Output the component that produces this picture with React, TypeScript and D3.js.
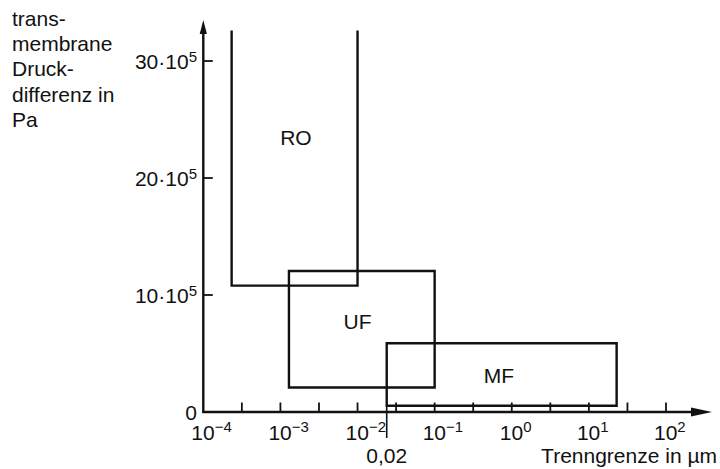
import React from "react";
import * as d3 from "d3";

// ---- data ----
const regionNames = ["RO", "UF", "MF"];
const regionXMin = [2.33e-4, 1.29e-3, 0.0239];
const regionXMax = [0.01, 0.1, 22.9];
const regionYMin = [10.8e5, 2.1e5, 0.54e5];
const regionYMax = [32.6e5, 12.05e5, 5.87e5];
const regionOpenTop = [true, false, false];
const regionLabelX = [1.59e-3, 0.01, 0.683];
const regionLabelY = [23.5e5, 7.73e5, 3.08e5];

const xTickValues = [
  10 ** -3.5, 1e-3, 10 ** -2.5, 1e-2, 10 ** -1.5, 1e-1,
  10 ** -0.5, 1, 10 ** 0.5, 10, 10 ** 1.5, 100,
];
const xLabelValues = [1e-4, 1e-3, 1e-2, 1e-1, 1, 10, 100];
const xLabelExps = ["−4", "−3", "−2", "−1", "0", "1", "2"];
const yTickValues = [10e5, 20e5, 30e5];
const yLabelMant = ["10", "20", "30"];

const markerValue = 0.0239;
const markerLabel = "0,02";
const yTitleLines = ["trans-", "membrane", "Druck-", "differenz in", "Pa"];
const xTitle = "Trenngrenze in µm";

const FONT = "'Liberation Sans', Arial, Helvetica, sans-serif";
const FS = 21;
const FS_SUP = 15;

export default function App() {
  const W = 720;
  const H = 469;
  const x = d3.scaleLog().domain([1e-4, 1e2]).range([203.3, 666]);
  const y = d3.scaleLinear().domain([0, 30e5]).range([412, 61]);
  const x0 = x(1e-4);
  const y0 = y(0);
  const sw = 2.4;

  const boxPath = (i: number) => {
    const l = x(regionXMin[i]);
    const r = x(regionXMax[i]);
    const t = y(regionYMax[i]);
    const b = y(regionYMin[i]);
    const p = d3.path();
    p.moveTo(l, t);
    p.lineTo(l, b);
    p.lineTo(r, b);
    p.lineTo(r, t);
    if (!regionOpenTop[i]) p.closePath();
    return p.toString();
  };

  return (
    <svg
      width={W}
      height={H}
      style={{ position: "absolute", left: 0, top: 0, display: "block", background: "#fff" }}
      fontFamily={FONT}
    >
      <rect width={W} height={H} fill="#fff" />
      {/* y-axis title */}
      {yTitleLines.map((t, i) => (
        <text key={t} x={12} y={26 + i * 25.2} fontSize={FS} fill="#111">
          {t}
        </text>
      ))}

      {/* boxes */}
      {regionNames.map((n, i) => (
        <path key={n} d={boxPath(i)} fill="none" stroke="#111" strokeWidth={sw} strokeLinejoin="miter" />
      ))}
      {regionNames.map((n, i) => (
        <text
          key={n + "l"}
          x={x(regionLabelX[i])}
          y={y(regionLabelY[i]) + 7.5}
          fontSize={FS}
          textAnchor="middle"
          fill="#111"
        >
          {n}
        </text>
      ))}

      {/* marker line below MF */}
      <line
        x1={x(markerValue)}
        x2={x(markerValue)}
        y1={y(regionYMin[2])}
        y2={y0 + 26}
        stroke="#111"
        strokeWidth={1.6}
      />
      <text x={x(markerValue)} y={463} fontSize={FS} textAnchor="middle" fill="#111">
        {markerLabel}
      </text>

      {/* x axis */}
      <line x1={x0 - 1} x2={694} y1={y0} y2={y0} stroke="#111" strokeWidth={sw} />
      <path d={`M${712},${y0} L${691},${y0 - 4.5} L${691},${y0 + 4.5} Z`} fill="#111" />
      {xTickValues.map((v, i) => (
        <line key={i} x1={x(v)} x2={x(v)} y1={y0} y2={y0 - 9.5} stroke="#111" strokeWidth={1.8} />
      ))}
      {xLabelValues.map((v, i) => (
        <text key={i} x={x(v) - 12} y={440} fontSize={FS} fill="#111">
          10
          <tspan fontSize={FS_SUP} dy={-8}>
            {xLabelExps[i]}
          </tspan>
        </text>
      ))}
      <text x={717} y={463} fontSize={FS} textAnchor="end" fill="#111">
        {xTitle}
      </text>

      {/* y axis */}
      <line x1={x0} x2={x0} y1={y0 + 1} y2={30} stroke="#111" strokeWidth={sw} />
      <path d={`M${x0},${20} L${x0 - 3.6},${34} L${x0 + 3.6},${34} Z`} fill="#111" />
      {yTickValues.map((v, i) => (
        <line key={i} x1={x0} x2={x0 + 9.5} y1={y(v)} y2={y(v)} stroke="#111" strokeWidth={1.8} />
      ))}
      {yTickValues.map((v, i) => (
        <text key={"yl" + i} x={197} y={y(v) + 7.5} fontSize={FS} textAnchor="end" fill="#111">
          {yLabelMant[i]}·10
          <tspan fontSize={FS_SUP} dy={-7}>
            5
          </tspan>
        </text>
      ))}
      <text x={197} y={y0 + 7.5} fontSize={FS} textAnchor="end" fill="#111">
        0
      </text>
    </svg>
  );
}
